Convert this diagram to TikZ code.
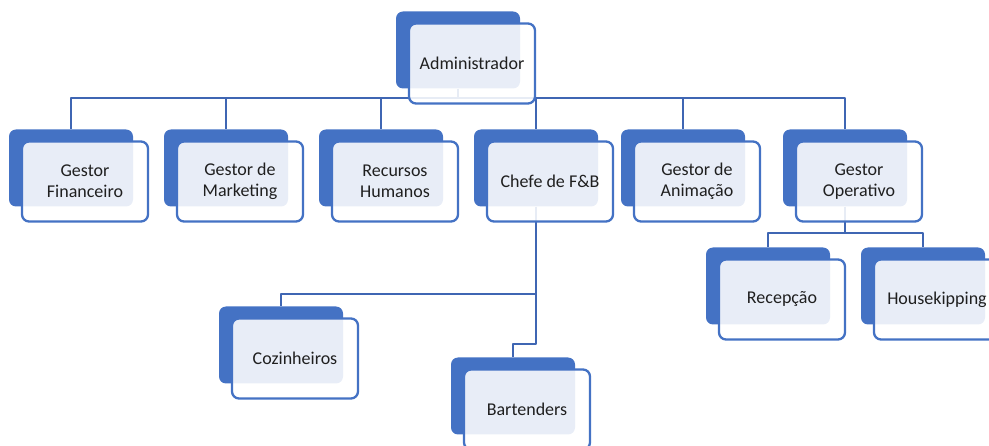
\documentclass[tikz,border=0pt]{standalone}
\usepackage{fontspec}
\setmainfont{Carlito}
\usetikzlibrary{positioning}
\definecolor{smblue}{HTML}{4472C4}
\definecolor{lineblue}{HTML}{3F66B3}
\begin{document}
\begin{tikzpicture}[x=1pt, y=-1pt, line join=round, font=\fontsize{18}{20.6}\selectfont]
	\tikzset{back/.style={rectangle, rounded corners=7pt, fill=smblue, minimum width=124pt, minimum height=77pt, inner sep=0pt},
		front/.style={rectangle, rounded corners=7pt, draw=smblue, line width=2.3pt, fill=white, fill opacity=0.88, text opacity=1, text=black!88, minimum width=126pt, minimum height=80pt, align=center, inner sep=0pt},
		conn/.style={lineblue, line width=2.3pt}}
	\useasboundingbox (0,0) rectangle (989,446);
	\clip (0,0) rectangle (989,446);
	% back boxes
	\foreach \p/\x/\y in {adm/458/50, fin/71/168, mkt/226/168, rh/381/168, fb/536/168, anim/683/168, oper/845/168,
		coz/281/345, bar/513/396, rec/768/286, hk/923/286}
	\node[back] (\p) at (\x,\y) {};
	% connectors
	\draw[conn] (adm.south) -- ++(0,9) coordinate (busA);
	\foreach \c in {fin,mkt,rh,fb,anim,oper}
	\draw[conn] (busA) -| (\c.north);
	\path (fb.south) ++(0,87) coordinate (busC);
	\draw[conn] (fb.south) -- ++(0,137.5) -| (bar.north);
	\draw[conn] (busC) -| (coz.north);
	\draw[conn] (oper.south) -- ++(0,26.5) coordinate (busO);
	\foreach \c in {rec,hk}
	\draw[conn] (busO) -| (\c.north);
	% front boxes
	\foreach \p/\t in {adm/Administrador, fin/{Gestor\\Financeiro}, mkt/{Gestor de\\Marketing}, rh/{Recursos\\Humanos},
		fb/{Chefe de F\&B}, anim/{Gestor de\\Animação}, oper/{Gestor\\Operativo}, coz/Cozinheiros, bar/Bartenders,
		rec/Recepção, hk/Housekipping}
	\node[front] (\p-t) at ([shift={(14,13.5)}]\p.center) {\t};
\end{tikzpicture}
\end{document}
